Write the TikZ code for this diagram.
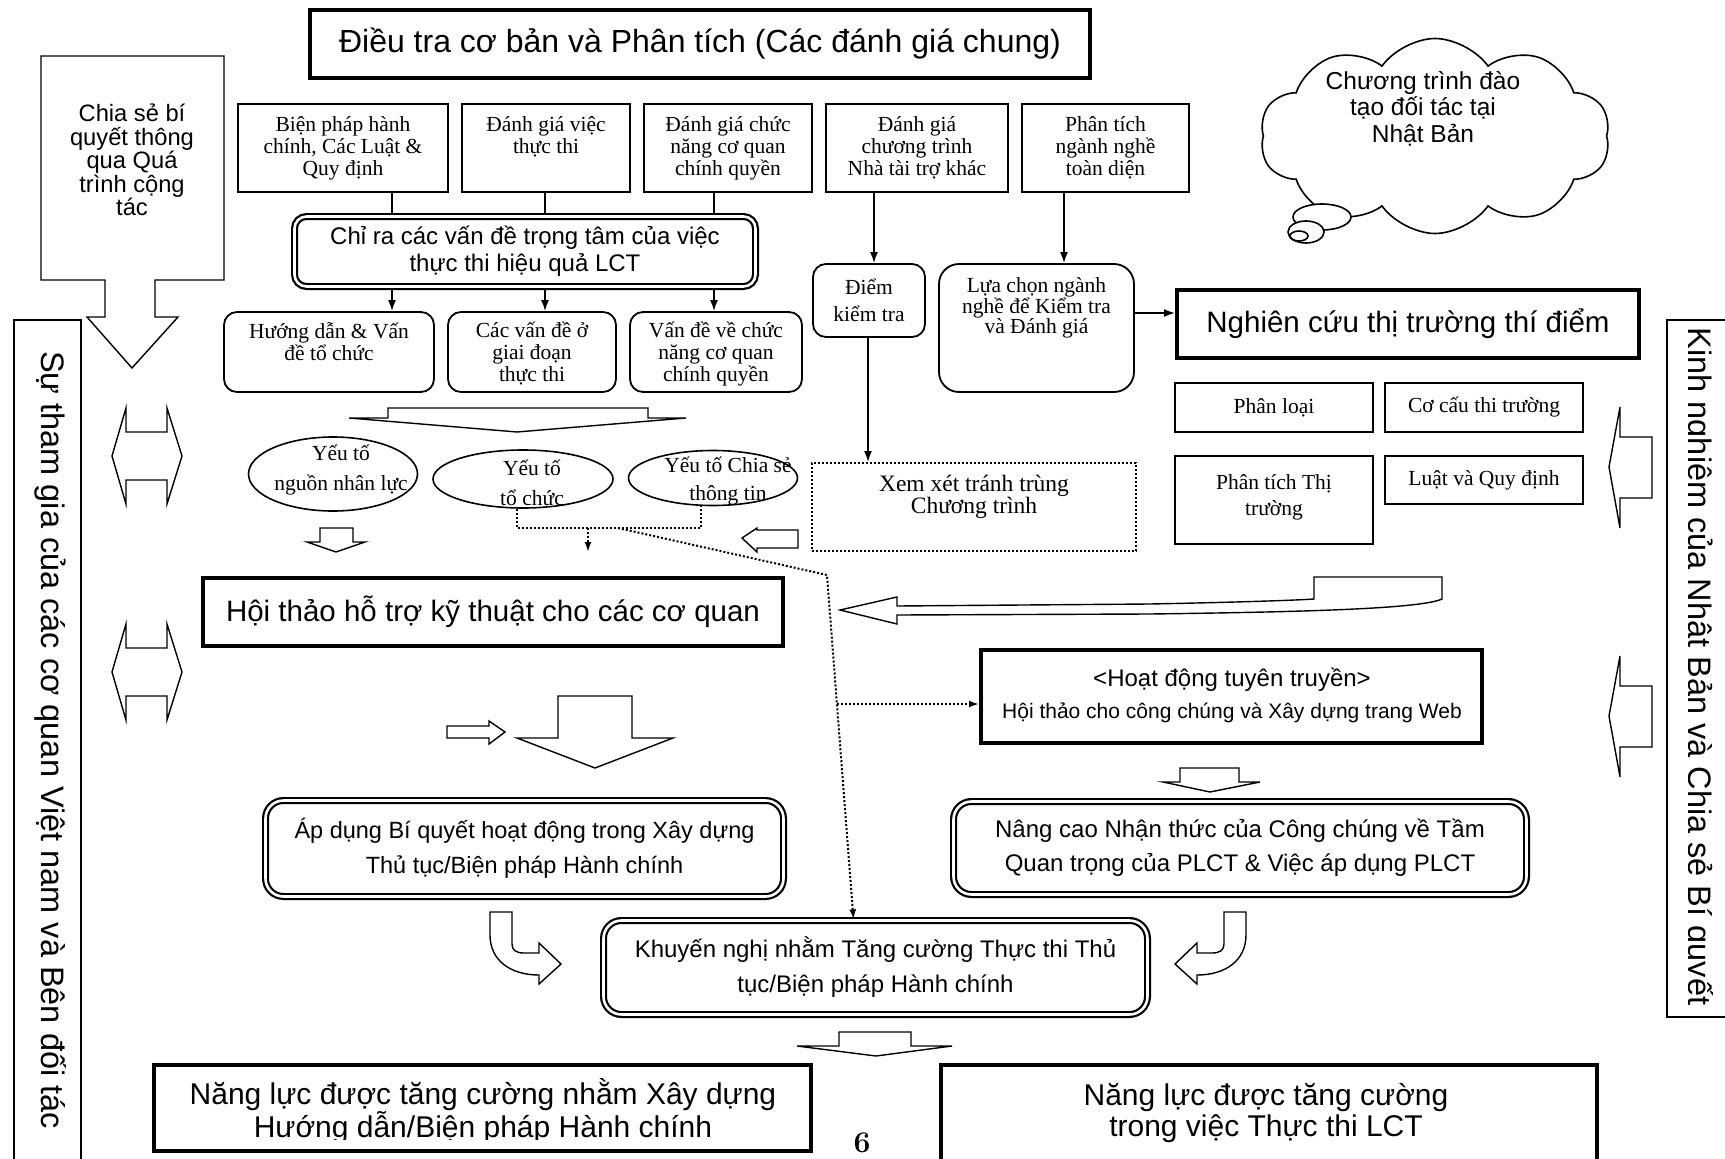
\documentclass[tikz,border=0pt]{standalone}
\usepackage{fontspec}
\usepackage{tikz}
\usetikzlibrary{arrows.meta,shapes}
\newfontfamily\ars{Liberation Sans}
\newfontfamily\tms{Liberation Serif}
\newcommand{\fsz}[2]{\fontsize{#1}{#2}\selectfont}
\tikzstyle{plainbox}=[draw,rectangle,line width=1.6pt,inner sep=0pt]
\tikzstyle{boldbox}=[draw,rectangle,line width=4pt,inner sep=0pt,align=center]
\tikzstyle{roundbox}=[draw,rectangle,rounded corners=13pt,line width=1.8pt,inner sep=0pt,align=center]
\tikzstyle{twinbox}=[draw,rectangle,rounded corners=16pt,line width=2.2pt,double,double distance=2.6pt,inner sep=0pt,align=center]
\tikzstyle{dotbox}=[draw,rectangle,line width=2pt,dash pattern=on 2pt off 2pt,inner sep=0pt]
\tikzstyle{oval}=[draw,ellipse,line width=1.6pt,inner sep=0pt]
\tikzstyle{blockarrow}=[draw,line width=1.4pt,fill=white,line join=miter]
\tikzstyle{plainline}=[draw,line width=1.6pt]
\tikzstyle{arrowline}=[draw,line width=1.6pt,-{Latex[length=11pt,width=8pt]}]
\tikzstyle{dotline}=[draw,line width=2pt,dash pattern=on 2pt off 2pt]
\tikzstyle{dotarrow}=[dotline,-{Latex[length=10pt,width=7pt]}]
\tikzstyle{serifline}=[align=center,inner sep=0pt,font=\tms\fsz{21.5}{22}]
\tikzstyle{sansline}=[align=center,inner sep=0pt]

\begin{document}
\begin{tikzpicture}[x=1pt,y=-1pt]
    \useasboundingbox (0,0) rectangle (1725,1159);
    % Side boxes along the page edges
    \node[plainbox, line width=2.5pt, minimum width=67pt, minimum height=860pt] (vnside) at (47.5,750) {};
    \node[rotate=-90, inner sep=0pt, font=\ars\fsz{32.5}{36}] (vnside-t) at (51,740) {Sự tham gia của các cơ quan Việt nam và Bên đối tác};
    \node[plainbox, line width=2.5pt, minimum width=80pt, minimum height=697pt] (jpside) at (1707,668.5) {};
    \begin{scope}
        \clip (1688,320) rectangle (1725,1017);
        \node[rotate=-90, inner sep=0pt, font=\ars\fsz{32.5}{36}] (jpside-t) at (1698,666.5) {Kinh nghiệm của Nhật Bản và Chia sẻ Bí quyết};
    \end{scope}

    % Title
    \node[boldbox, minimum width=780pt, minimum height=68pt, font=\ars\fsz{32}{36}] (title) at (700,44) {Điều tra cơ bản và Phân tích (Các đánh giá chung)};

    % Know-how callout
    \draw[blockarrow] (41,56) -- (224,56) -- (224,280) -- (155,280) -- (155,317) -- (178,317) -- (132,368) -- (87,317) -- (105,317) -- (105,280) -- (41,280) -- cycle;
    \node[sansline, font=\ars\fsz{23.7}{23.5}] (share) at (132,160) {Chia sẻ bí\\quyết thông\\qua Quá\\trình cộng\\tác};

    % Thought cloud
    \node[cloud, draw, line width=1.6pt, cloud puffs=10, cloud puff arc=110, aspect=1.9, minimum width=350pt, minimum height=195pt, inner sep=0pt] (cloud) at (1435,136) {};
    \node[sansline, font=\ars\fsz{24.5}{26.5}] (cloud-t) at (1423,108.5) {Chương trình đào\\tạo đối tác tại\\Nhật Bản};
    \node[oval, fill=white, minimum width=58pt, minimum height=26pt] (bub1) at (1322,217) {};
    \node[oval, fill=white, minimum width=36pt, minimum height=22pt] (bub2) at (1306,232) {};
    \node[oval, minimum width=18pt, minimum height=10pt] (bub3) at (1299,236) {};

    % Top row of survey boxes
    \foreach \name/\cx/\w/\txt in {b1/343/210/{Biện pháp hành\\chính, Các Luật \&\\Quy định}, b2/546/168/{Đánh giá việc\\thực thi}, b3/728/168/{Đánh giá chức\\năng cơ quan\\chính quyền}, b4/917/182/{Đánh giá\\chương trình\\Nhà tài trợ khác}, b5/1105.5/167/{Phân tích\\ngành nghề\\toàn diện}}
    {
        \node[plainbox, minimum width=\w pt, minimum height=88pt] (\name) at (\cx,148) {};
        \node[serifline, anchor=north] (\name-t) at ([yshift=-13pt]\name.north) {\txt};
    }

    % Key issues box
    \node[twinbox, rounded corners=12pt, minimum width=461pt, minimum height=70pt, font=\ars\fsz{24}{27}] (chira) at (525,251.5) {Chỉ ra các vấn đề trọng tâm của việc\\thực thi hiệu quả LCT};

    % Second row
    \foreach \name/\cx/\w in {r1/329/210, r2/532/168, r3/716/172}
        \node[roundbox, minimum width=\w pt, minimum height=80pt] (\name) at (\cx,352) {};
    \begin{scope}
        \clip (224,312) rectangle (802,386);
        \foreach \name/\txt in {r1/{Hướng dẫn \& Vấn\\đề tổ chức}, r2/{Các vấn đề ở\\giai đoạn\\thực thi}, r3/{Vấn đề về chức\\năng cơ quan\\chính quyền}}
            \node[serifline, anchor=north] (\name-t) at ([yshift=-11pt]\name.north) {\txt};
    \end{scope}

    % Columns joining the first rows
    \foreach \k/\x in {1/392, 2/545, 3/714}
    {
        \coordinate (k\k) at (\x,0);
        \path[plainline] (k\k |- b\k.south) -- (k\k |- chira.north);
        \path[arrowline] (k\k |- chira.south) -- (k\k |- r\k.north);
    }

    % Check point, sector selection and pilot survey
    \node[roundbox, minimum width=112pt, minimum height=73pt, font=\tms\fsz{21.5}{27}] (diem) at (869,300.5) {Điểm\\kiểm tra};
    \node[roundbox, rounded corners=20pt, minimum width=195pt, minimum height=128pt] (lua) at (1036.5,328) {};
    \node[serifline, font=\tms\fsz{21.5}{20}, anchor=north] (lua-t) at ([yshift=-14pt]lua.north) {Lựa chọn ngành\\nghề để Kiểm tra\\và Đánh giá};
    \node[boldbox, minimum width=462pt, minimum height=68pt, font=\ars\fsz{29.5}{32}] (nghien) at (1408,324) {Nghiên cứu thị trường thí điểm};

    % Market research items
    \node[plainbox, minimum width=198pt, minimum height=49pt, serifline] (m1) at (1274,407.5) {\raisebox{-3pt}{Phân loại}};
    \node[plainbox, minimum width=198pt, minimum height=49pt, serifline] (m2) at (1484,407.5) {\raisebox{-3pt}{Cơ cấu thi trường}};
    \node[plainbox, minimum width=198pt, minimum height=88pt] (m3) at (1274,500) {};
    \node[serifline, font=\tms\fsz{21.5}{26}] (m3-t) at (1274,497) {Phân tích Thị\\trường};
    \node[plainbox, minimum width=198pt, minimum height=48pt, serifline] (m4) at (1484,480) {\raisebox{-2pt}{Luật và Quy định}};

    % Overlap check
    \node[dotbox, minimum width=324pt, minimum height=88pt] (xem) at (974,507) {};
    \node[serifline, font=\tms\fsz{23.5}{22}] (xem-t) at (974,497) {Xem xét tránh trùng\\Chương trình};

    \coordinate (k4) at (874,0);
    \coordinate (k5) at (868,0);
    \coordinate (k6) at (1064,0);
    \coordinate (lo) at ([yshift=15pt]lua.east);
    \path[arrowline] (k4 |- b4.south) -- (k4 |- diem.north);
    \path[arrowline] (k5 |- diem.south) -- (k5 |- xem.north);
    \path[arrowline] (k6 |- b5.south) -- (k6 |- lua.north);
    \path[arrowline] (lo) -- (lo -| nghien.west);

    % Factor ellipses
    \node[oval, minimum width=169pt, minimum height=74pt] (e1) at (333,474) {};
    \node[oval, minimum width=180pt, minimum height=58pt] (e2) at (523,479) {};
    \node[oval, minimum width=169pt, minimum height=55pt] (e3) at (713,478) {};
    \node[serifline, font=\tms\fsz{21.5}{30}] (e1-t) at (341,470.5) {Yếu tố\\nguồn nhân lực};
    \node[serifline, font=\tms\fsz{21.5}{30}] (e2-t) at (532,482.5) {Yếu tố\\tổ chức};
    \node[serifline, font=\tms\fsz{21.5}{28}] (e3-t) at (728,481.5) {Yếu tố Chia sẻ\\thông tin};

    % Block arrows
    \draw[blockarrow] (349,418) -- (388,418) -- (388,408) -- (648,408) -- (648,418) -- (686,418) -- (517,432) -- cycle;
    \draw[blockarrow] (320,528) -- (353,528) -- (353,542) -- (365,542) -- (336,552) -- (307,542) -- (320,542) -- cycle;
    \draw[blockarrow] (742,538) -- (757,528) -- (757,530) -- (798,530) -- (798,548) -- (757,548) -- (757,552) -- cycle;
    \foreach \c in {456,672}
        \draw[blockarrow] (126,\c-24) -- (167,\c-24) -- (167,\c-48) -- (182,\c) -- (167,\c+48) -- (167,\c+24) -- (126,\c+24) -- (126,\c+48) -- (112,\c) -- (126,\c-48) -- cycle;
    \foreach \c in {467,716}
        \draw[blockarrow] (1609,\c) -- (1620,\c-60) -- (1620,\c-30) -- (1652,\c-30) -- (1652,\c+31) -- (1620,\c+31) -- (1620,\c+61) -- cycle;
    \draw[blockarrow] (840,610) -- (897,597) -- (897,606) -- (1150,604) .. controls (1250,602) and (1300,600) .. (1314,599) -- (1314,577) -- (1442,577) -- (1442,599) .. controls (1420,609) and (1300,612) .. (1150,614) -- (897,615) -- (897,624) -- cycle;
    \draw[blockarrow] (447,726) -- (489,726) -- (489,721) -- (505,732) -- (489,744) -- (489,738) -- (447,738) -- cycle;
    \draw[blockarrow] (558,696) -- (632,696) -- (632,738) -- (673,738) -- (595,768) -- (517,738) -- (558,738) -- cycle;
    \draw[blockarrow] (1180,768) -- (1239,768) -- (1239,782) -- (1260,782) -- (1210,792) -- (1163,782) -- (1180,782) -- cycle;
    \draw[blockarrow] (839,1032) -- (911,1032) -- (911,1046) -- (952,1046) -- (876,1056) -- (797,1046) -- (839,1046) -- cycle;
    \draw[blockarrow] (490,912) -- (512,912) -- (512,944) .. controls (512,950) and (516,953) .. (524,953) -- (539,953) -- (539,943) -- (561,964) -- (539,984) -- (539,975) .. controls (510,975) and (490,960) .. (490,935) -- cycle;
    \draw[blockarrow, shift={(1736,0)}, xscale=-1] (490,912) -- (512,912) -- (512,944) .. controls (512,950) and (516,953) .. (524,953) -- (539,953) -- (539,943) -- (561,964) -- (539,984) -- (539,975) .. controls (510,975) and (490,960) .. (490,935) -- cycle;

    % Workshops and outreach
    \node[boldbox, minimum width=580pt, minimum height=68pt, font=\ars\fsz{29.5}{32}] (hoithao) at (493,612) {Hội thảo hỗ trợ kỹ thuật cho các cơ quan};
    \node[boldbox, minimum width=501pt, minimum height=93pt] (hoat) at (1231.5,696.5) {};
    \node[sansline, font=\ars\fsz{24}{26}] (hoat-a) at (1232,680) {<Hoạt động tuyên truyền>};
    \node[sansline, font=\ars\fsz{21}{24}] (hoat-b) at (1232,713) {Hội thảo cho công chúng và Xây dựng trang Web};

    % Results
    \node[twinbox, rounded corners=18pt, minimum width=518pt, minimum height=96pt, font=\ars\fsz{23.5}{35}] (apdung) at (524.5,848.5) {Áp dụng Bí quyết hoạt động trong Xây dựng\\Thủ tục/Biện pháp Hành chính};
    \node[twinbox, rounded corners=18pt, minimum width=573pt, minimum height=93pt, font=\ars\fsz{24}{34}] (nangcao) at (1240,848) {Nâng cao Nhận thức của Công chúng về Tầm\\Quan trọng của PLCT \& Việc áp dụng PLCT};
    \node[twinbox, rounded corners=18pt, minimum width=544pt, minimum height=94pt, font=\ars\fsz{24}{35}] (khuyen) at (875.5,967.5) {Khuyến nghị nhằm Tăng cường Thực thi Thủ\\tục/Biện pháp Hành chính};

    % Dotted links from the factors
    \coordinate (dl) at (517,528);
    \coordinate (dr) at (701,528);
    \coordinate (dm) at (588,528);
    \coordinate (dd) at (618,528);
    \coordinate (bend) at (827,575);
    \coordinate (dh) at (837,704);
    \path[dotline] (dl |- e2.south) -- (dl) -- (dr) -- (dr |- e3.south);
    \path[dotarrow] (dm) -- ++(0,24);
    \path[dotarrow] (dd) -- (bend) -- ([xshift=-22pt]khuyen.north);
    \path[dotarrow] (dh) -- ([yshift=-7.5pt]hoat.west);

    % Outcomes
    \node[boldbox, line width=4.5pt, minimum width=657pt, minimum height=86pt] (nangluc1) at (482.5,1108) {};
    \begin{scope}
        \clip (156,1067) rectangle (809,1139);
        \node[sansline, font=\ars\fsz{30}{33}] (nangluc1-t) at (483,1111.5) {Năng lực được tăng cường nhằm Xây dựng\\Hướng dẫn/Biện pháp Hành chính};
    \end{scope}
    \node[boldbox, line width=4.5pt, minimum width=656pt, minimum height=130pt] (nangluc2) at (1269,1130) {};
    \node[sansline, font=\ars\fsz{30}{31}] (nangluc2-t) at (1266,1113) {Năng lực được tăng cường\\trong việc Thực thi LCT};
    \node[inner sep=0pt, font=\bfseries\fsz{30}{30}] (pagenum) at (862,1143) {6};
\end{tikzpicture}
\end{document}
